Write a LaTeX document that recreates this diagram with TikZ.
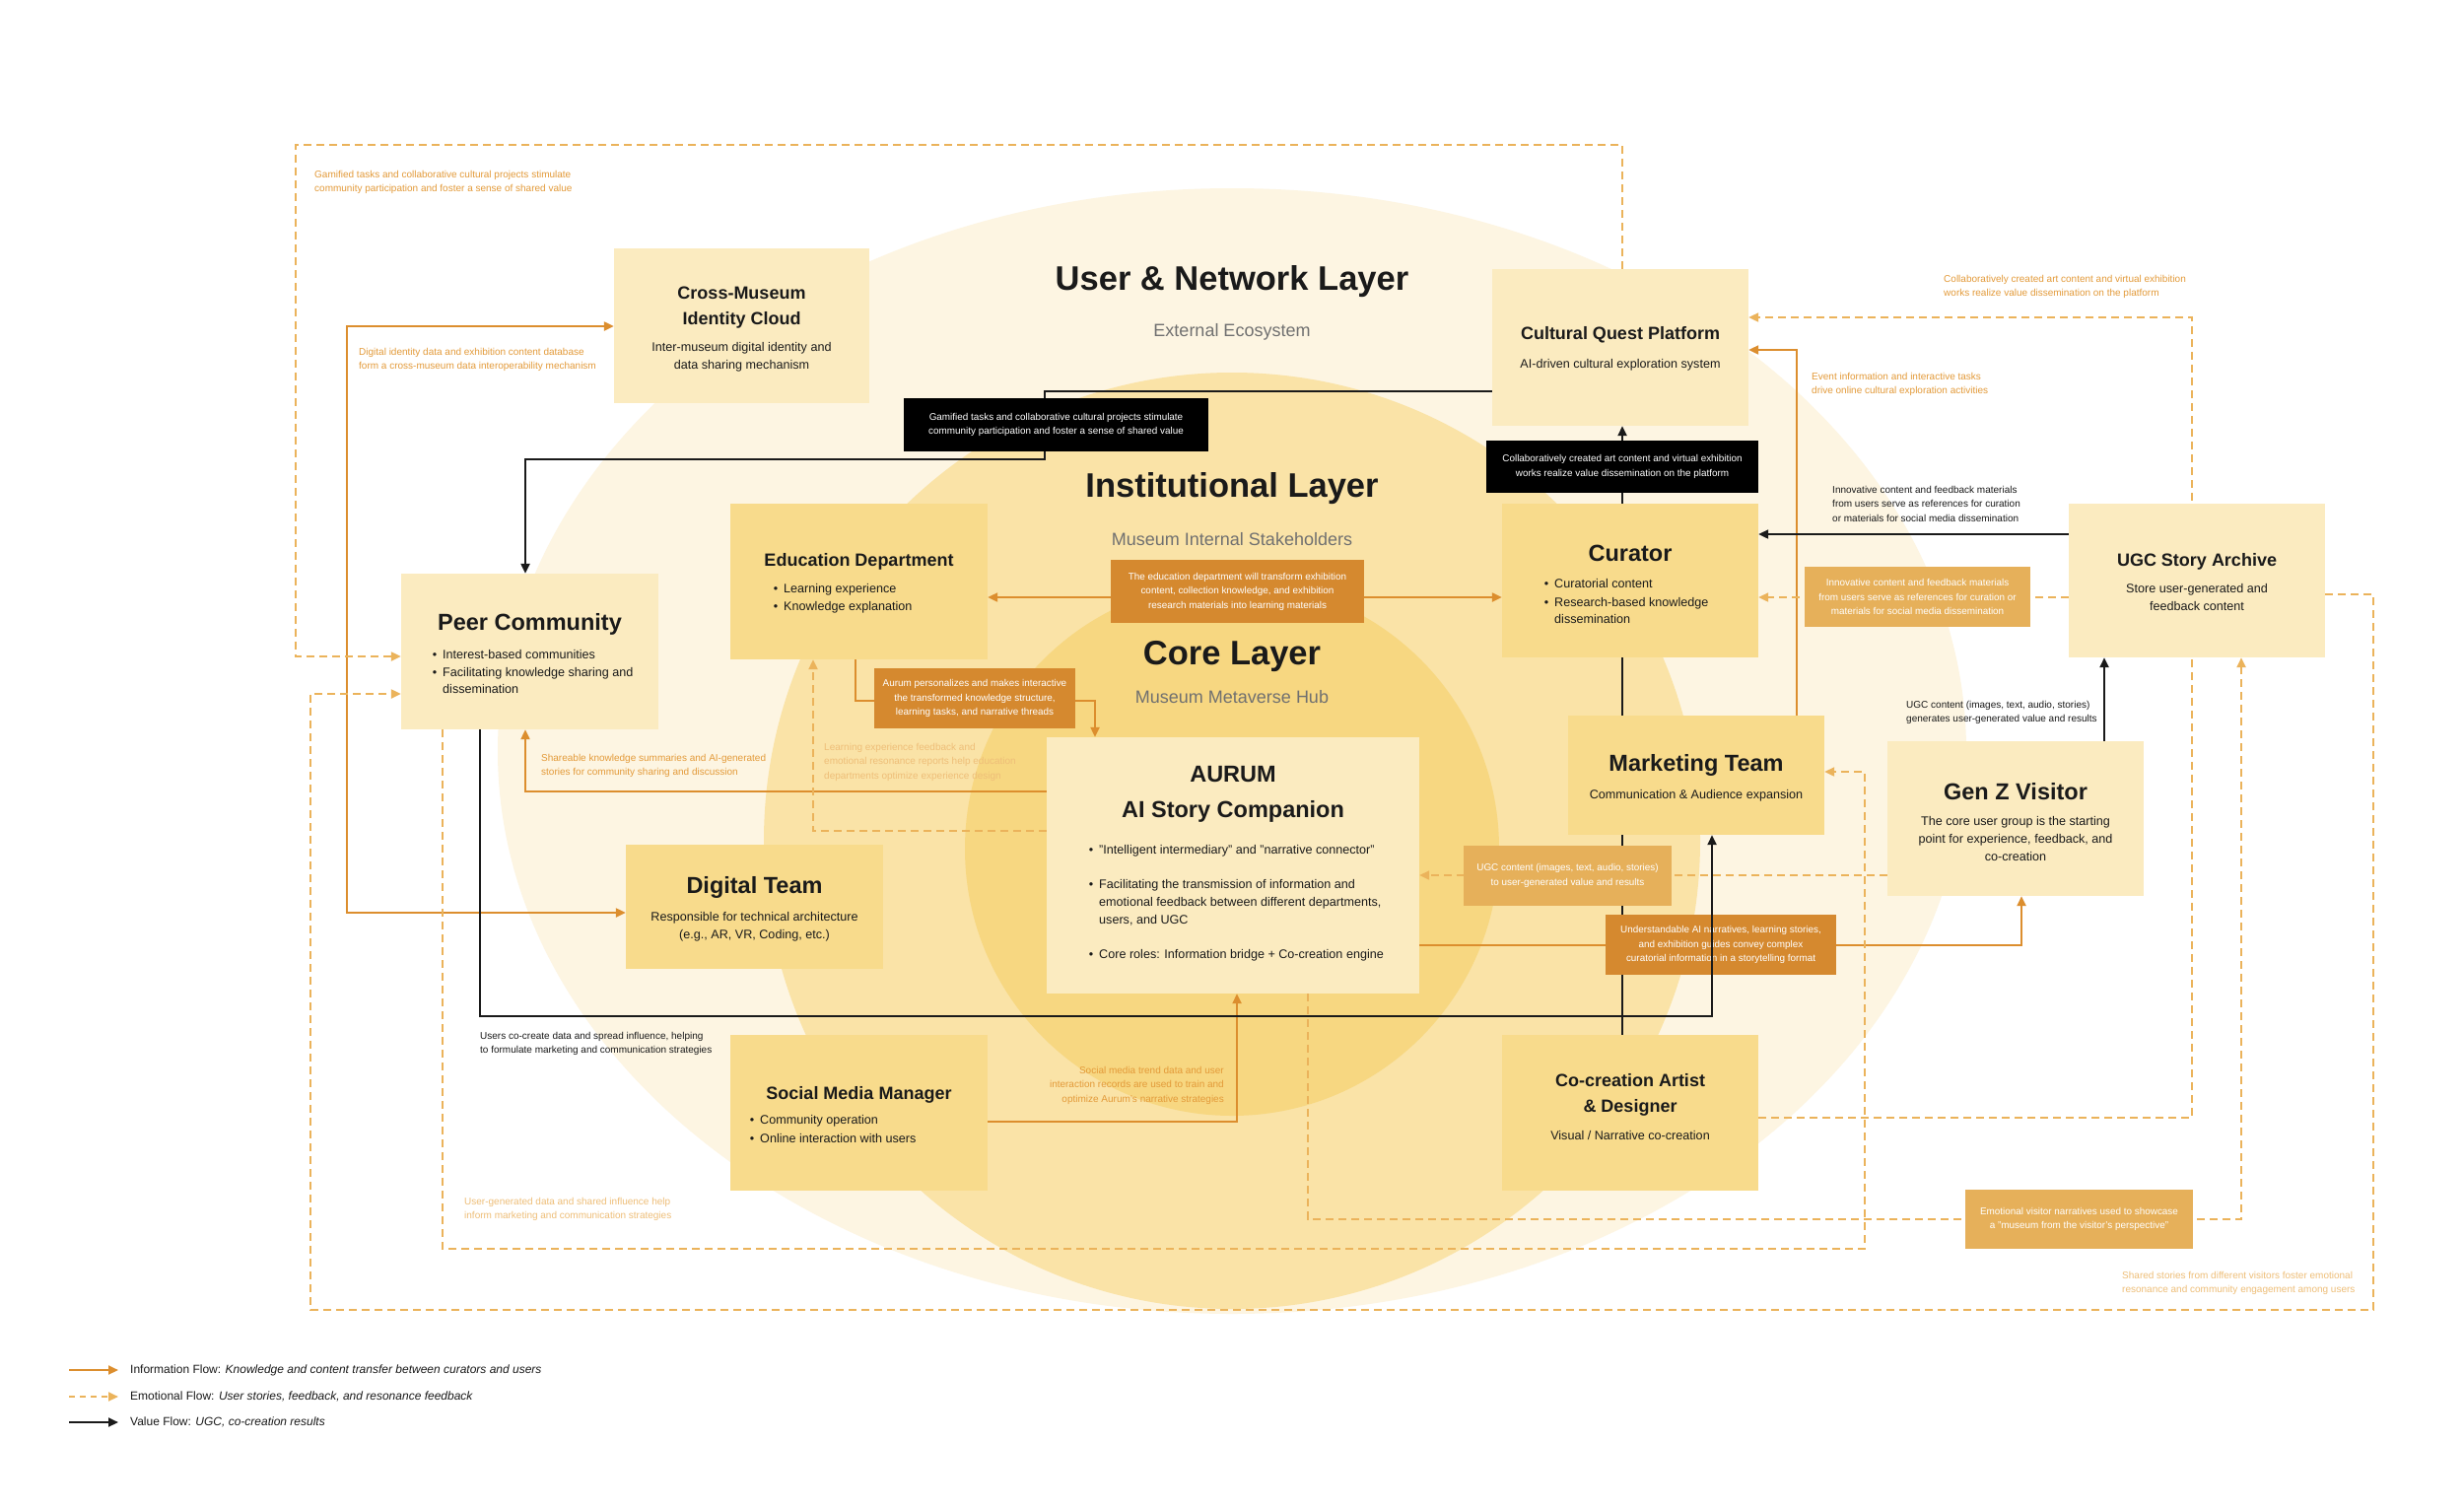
\documentclass[tikz,border=0pt]{standalone}
\usepackage{fontspec}
\setmainfont{Liberation Sans}
\usetikzlibrary{arrows.meta}
\definecolor{bgOuter}{HTML}{FDF5E2}
\definecolor{bgInst}{HTML}{FAE3A7}
\definecolor{bgCore}{HTML}{F7D781}
\definecolor{boxLight}{HTML}{FBEBC0}
\definecolor{boxMid}{HTML}{F8DB8C}
\definecolor{labDark}{HTML}{D5892F}
\definecolor{labLight}{HTML}{E6B05A}
\definecolor{infoC}{HTML}{DC8E2E}
\definecolor{emoC}{HTML}{EBB35B}
\definecolor{txtOr}{HTML}{E39A39}
\definecolor{txtPale}{HTML}{EEBE78}
\definecolor{ink}{HTML}{1A1A1A}
\definecolor{subGray}{HTML}{707070}
\pgfdeclarelayer{bglayer}
\pgfdeclarelayer{lines}
\pgfdeclarelayer{toplines}
\pgfsetlayers{bglayer,lines,main,toplines}
\newcommand{\fsz}[2]{\fontsize{#1}{#2}\selectfont}
\newcommand{\bll}{\llap{\textbullet\hspace{6pt}}}
\tikzset{
  boxL/.style={fill=boxLight, inner sep=0pt},
  boxM/.style={fill=boxMid, inner sep=0pt},
  labD/.style={fill=labDark, text=white, align=center, font=\fsz{9.9}{14.5}, inner sep=0pt},
  labL/.style={fill=labLight, text=white, align=center, font=\fsz{9.9}{14.5}, inner sep=0pt},
  labK/.style={fill=black, text=white, align=center, font=\fsz{9.9}{14.5}, inner sep=0pt},
  ttlBig/.style={font=\fsz{23.5}{36}\bfseries, text=ink, inner sep=0pt, align=center},
  ttlSm/.style={font=\fsz{18}{26}\bfseries, text=ink, inner sep=0pt, align=center},
  desc/.style={font=\fsz{12.6}{18}, text=ink, inner sep=0pt, align=center},
  bul/.style={font=\fsz{12.6}{17.5}, text=ink, inner sep=0pt, align=left, anchor=west},
  note/.style={font=\fsz{10}{14.5}, inner sep=0pt, align=left, anchor=west},
  layT/.style={font=\fsz{34.5}{40}\bfseries, text=ink, inner sep=0pt},
  layS/.style={font=\fsz{18}{22}, text=subGray, inner sep=0pt},
  info/.style={draw=infoC, line width=2.2pt, ->},
  emo/.style={draw=emoC, line width=2.2pt, dash pattern=on 8pt off 5pt, ->},
  val/.style={draw=ink, line width=2.2pt, ->},
  >={Triangle[length=10pt,width=9pt]}
}
\begin{document}
\begin{tikzpicture}[x=1pt,y=-1pt]
\begin{pgfonlayer}{bglayer}
\fill[white] (0,0) rectangle (2500,1531);
\fill[bgOuter] (1250,762) ellipse [x radius=745, y radius=571];
\fill[bgInst] (1250,853) circle [radius=475];
\fill[bgCore] (1250,861) circle [radius=271];
\end{pgfonlayer}
\useasboundingbox (0,0) rectangle (2500,1531);

% layer titles
\node[layT] (l1t) at (1250,286) {User \& Network Layer};
\node[layS] (l1s) at (1250,337) {External Ecosystem};
\node[layT] (l2t) at (1250,496) {Institutional Layer};
\node[layS] (l2s) at (1250,547) {Museum Internal Stakeholders};
\node[layT] (l3t) at (1250,666) {Core Layer};
\node[layS] (l3s) at (1250,707) {Museum Metaverse Hub};

% boxes
\node[boxL, minimum width=259pt, minimum height=157pt] (cm) at (752.5,330.5) {};
\node[boxL, minimum width=260pt, minimum height=159pt] (cq) at (1644,352.5) {};
\node[boxM, minimum width=260pt, minimum height=156pt] (cur) at (1654,589) {};
\node[boxL, minimum width=260pt, minimum height=156pt] (ugc) at (2229,589) {};
\node[boxM, minimum width=261pt, minimum height=158pt] (edu) at (871.5,590) {};
\node[boxL, minimum width=261pt, minimum height=158pt] (peer) at (537.5,661) {};
\node[boxM, minimum width=260pt, minimum height=121pt] (mkt) at (1721,786.5) {};
\node[boxL, minimum width=260pt, minimum height=157pt] (genz) at (2045,830.5) {};
\node[boxM, minimum width=261pt, minimum height=126pt] (dig) at (765.5,920) {};
\node[boxL, minimum width=378pt, minimum height=260pt] (aur) at (1251,878) {};
\node[boxM, minimum width=261pt, minimum height=158pt] (soc) at (871.5,1129) {};
\node[boxM, minimum width=260pt, minimum height=158pt] (co) at (1654,1129) {};

% box texts
\node[ttlSm] (cmT) at (752.5,312) {Cross-Museum\\Identity Cloud};
\node[desc] (cmD) at (752.5,362) {Inter-museum digital identity and\\data sharing mechanism};
\node[ttlSm] (cqT) at (1644,340) {Cultural Quest Platform};
\node[desc] (cqD) at (1644,370) {AI-driven cultural exploration system};
\node[ttlBig] (curT) at (1654,561) {Curator};
\node[bul] (curB1) at (1577,592) {\bll Curatorial content};
\node[bul] (curB2) at (1577,619.5) {\bll Research-based knowledge\\dissemination};
\node[ttlSm] (ugcT) at (2229,570) {UGC Story Archive};
\node[desc] (ugcD) at (2229,605.5) {Store user-generated and\\feedback content};
\node[ttlSm] (eduT) at (871.5,570) {Education Department};
\node[bul] (eduB1) at (795,598) {\bll Learning experience};
\node[bul] (eduB2) at (795,616) {\bll Knowledge explanation};
\node[ttlBig] (peerT) at (537.5,633) {Peer Community};
\node[bul] (peerB1) at (449,664) {\bll Interest-based communities};
\node[bul] (peerB2) at (449,690.5) {\bll Facilitating knowledge sharing and\\dissemination};
\node[ttlBig] (mktT) at (1721,776) {Marketing Team};
\node[desc] (mktD) at (1721,807) {Communication \& Audience expansion};
\node[ttlBig] (genzT) at (2045,803) {Gen Z Visitor};
\node[desc] (genzD) at (2045,851) {The core user group is the starting\\point for experience, feedback, and\\co-creation};
\node[ttlBig] (digT) at (765.5,900) {Digital Team};
\node[desc] (digD) at (765.5,940) {Responsible for technical architecture\\(e.g., AR, VR, Coding, etc.)};
\node[ttlBig] (aurT) at (1251,806) {AURUM\\AI Story Companion};
\node[bul, font=\fsz{12.6}{18}] (aurB1) at (1115,863) {\bll "Intelligent intermediary" and "narrative connector"};
\node[bul, font=\fsz{12.6}{18}] (aurB2) at (1115,916) {\bll Facilitating the transmission of information and\\emotional feedback between different departments,\\users, and UGC};
\node[bul, font=\fsz{12.6}{18}] (aurB3) at (1115,969) {\bll Core roles: Information bridge + Co-creation engine};
\node[ttlSm] (socT) at (871.5,1111) {Social Media Manager};
\node[bul] (socB1) at (771,1137) {\bll Community operation};
\node[bul] (socB2) at (771,1155) {\bll Online interaction with users};
\node[ttlSm] (coT) at (1654,1111) {Co-creation Artist\\\& Designer};
\node[desc] (coD) at (1654,1152) {Visual / Narrative co-creation};

% label boxes
\node[labK, minimum width=309pt, minimum height=54pt] (blk1) at (1071.5,431) {Gamified tasks and collaborative cultural projects stimulate\\community participation and foster a sense of shared value};
\node[labK, minimum width=276pt, minimum height=53pt] (blk2) at (1646,473.5) {Collaboratively created art content and virtual exhibition\\works realize value dissemination on the platform};
\node[labD, minimum width=257pt, minimum height=64pt] (edlab) at (1255.5,600) {The education department will transform exhibition\\content, collection knowledge, and exhibition\\research materials into learning materials};
\node[labD, minimum width=204pt, minimum height=61pt] (aulab) at (989,708.5) {Aurum personalizes and makes interactive\\the transformed knowledge structure,\\learning tasks, and narrative threads};
\node[labL, minimum width=229pt, minimum height=61pt] (innolab) at (1945.5,605.5) {Innovative content and feedback materials\\from users serve as references for curation or\\materials for social media dissemination};
\node[labL, minimum width=211pt, minimum height=61pt] (ugclab) at (1590.5,888.5) {UGC content (images, text, audio, stories)\\to user-generated value and results};
\node[labD, minimum width=234pt, minimum height=61pt] (undlab) at (1746,958.5) {Understandable AI narratives, learning stories,\\and exhibition guides convey complex\\curatorial information in a storytelling format};
\node[labL, minimum width=231pt, minimum height=60pt] (emolab) at (2109.5,1237) {Emotional visitor narratives used to showcase\\a "museum from the visitor's perspective"};

% free notes
\node[note, text=txtOr] (t1) at (319,185) {Gamified tasks and collaborative cultural projects stimulate\\community participation and foster a sense of shared value};
\node[note, text=txtOr] (t2) at (364,365) {Digital identity data and exhibition content database\\form a cross-museum data interoperability mechanism};
\node[note, text=txtOr] (t3) at (1972,291) {Collaboratively created art content and virtual exhibition\\works realize value dissemination on the platform};
\node[note, text=txtOr] (t4) at (1838,390) {Event information and interactive tasks\\drive online cultural exploration activities};
\node[note, text=ink] (t5) at (1859,511) {Innovative content and feedback materials\\from users serve as references for curation\\or materials for social media dissemination};
\node[note, text=ink] (t6) at (1934,723) {UGC content (images, text, audio, stories)\\generates user-generated value and results};
\node[note, text=txtOr] (t7) at (549,777) {Shareable knowledge summaries and AI-generated\\stories for community sharing and discussion};
\node[note, text=txtPale] (t8) at (836,773) {Learning experience feedback and\\emotional resonance reports help education\\departments optimize experience design};
\node[note, text=ink] (t9) at (487,1059) {Users co-create data and spread influence, helping\\to formulate marketing and communication strategies};
\node[note, text=txtOr, anchor=east, align=right] (t10) at (1242,1101) {Social media trend data and user\\interaction records are used to train and\\optimize Aurum's narrative strategies};
\node[note, text=txtPale] (t11) at (471,1227) {User-generated data and shared influence help\\inform marketing and communication strategies};
\node[note, text=txtPale] (t12) at (2153,1302) {Shared stories from different visitors foster emotional\\resonance and community engagement among users};

% connectors
\begin{pgfonlayer}{lines}
\draw[info,<->] (edu.east |- 0,606) -- (cur.west |- 0,606);
\draw[info] (edu.south -| 868,0) -- (868,711) -- (1111,711) -- (aur.north -| 1111,0);
\draw[info] (aur.west |- 0,803) -- (533,803) -- (peer.south -| 533,0);
\draw[info] (soc.east |- 0,1138) -- (1255,1138) -- (aur.south -| 1255,0);
\draw[info] (aur.east |- 0,959) -- (2051,959) -- (genz.south -| 2051,0);
\draw[info,<->] (cm.west |- 0,331) -- (352,331) -- (352,926) -- (dig.west |- 0,926);
\draw[info] (mkt.north -| 1823,0) -- (1823,355) -- (cq.east |- 0,355);

\draw[val] (cq.west |- 0,397) -- (1060,397) -- (1060,466) -- (533,466) -- (peer.north -| 533,0);
\draw[val] (co.north -| 1646,0) -- (cq.south -| 1646,0);
\draw[val] (ugc.west |- 0,542) -- (cur.east |- 0,542);
\draw[val] (genz.north -| 2135,0) -- (ugc.south -| 2135,0);

\draw[emo] (cq.north -| 1646,0) -- (1646,147) -- (300,147) -- (300,666) -- (peer.west |- 0,666);
\draw[emo] (ugc.east |- 0,603) -- (2408,603) -- (2408,1329) -- (315,1329) -- (315,704) -- (peer.west |- 0,704);
\draw[emo] (ugc.west |- 0,606) -- (cur.east |- 0,606);
\draw[emo] (co.east |- 0,1134) -- (2224,1134) -- (2224,322) -- (cq.east |- 0,322);
\draw[emo] (genz.west |- 0,888) -- (aur.east |- 0,888);
\draw[emo] (peer.south -| 449,0) -- (449,1267) -- (1892,1267) -- (1892,783) -- (mkt.east |- 0,783);
\draw[emo] (aur.south -| 1327,0) -- (1327,1237) -- (2274,1237) -- (ugc.south -| 2274,0);
\draw[emo] (aur.west |- 0,843) -- (825,843) -- (edu.south -| 825,0);
\end{pgfonlayer}
\begin{pgfonlayer}{toplines}
\draw[val] (peer.south -| 487,0) -- (487,1031) -- (1737,1031) -- (mkt.south -| 1737,0);
\end{pgfonlayer}

% legend
\coordinate (lg1a) at (70,1390); \coordinate (lg1b) at (120,1390);
\coordinate (lg2a) at (70,1417); \coordinate (lg2b) at (120,1417);
\coordinate (lg3a) at (70,1443); \coordinate (lg3b) at (120,1443);
\draw[info, line width=2pt] (lg1a) -- (lg1b);
\draw[emo, line width=2pt, dash pattern=on 6pt off 5pt] (lg2a) -- (lg2b);
\draw[val, line width=2pt] (lg3a) -- (lg3b);
\node[anchor=west, inner sep=0pt, font=\fsz{12}{14}, text=ink] (lg1t) at (132,1390) {Information Flow: \textit{Knowledge and content transfer between curators and users}};
\node[anchor=west, inner sep=0pt, font=\fsz{12}{14}, text=ink] (lg2t) at (132,1417) {Emotional Flow: \textit{User stories, feedback, and resonance feedback}};
\node[anchor=west, inner sep=0pt, font=\fsz{12}{14}, text=ink] (lg3t) at (132,1443) {Value Flow: \textit{UGC, co-creation results}};
\end{tikzpicture}
\end{document}
